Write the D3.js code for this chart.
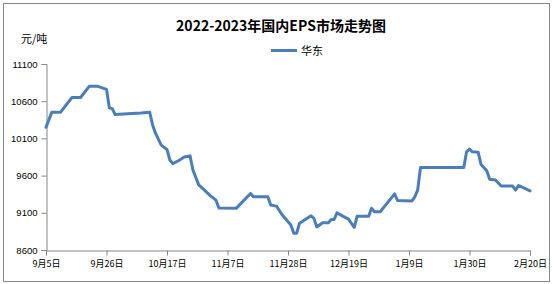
<!DOCTYPE html>
<html><head><meta charset="utf-8">
<script src="https://cdn.jsdelivr.net/npm/d3@7"></script>
<style>body{margin:0;background:#fff}svg{display:block}</style>
</head><body>
<svg id="c" width="555" height="284"></svg>
<script>
const titleText = "2022-2023年国内EPS市场走势图";
const unitText = "元/吨";
const seriesName = "华东";
const dates = ["2022-09-05","2022-09-07","2022-09-10","2022-09-14","2022-09-17","2022-09-20","2022-09-23","2022-09-26","2022-09-27","2022-09-28","2022-09-29","2022-10-08","2022-10-11","2022-10-12","2022-10-13","2022-10-15","2022-10-17","2022-10-18","2022-10-19","2022-10-21","2022-10-23","2022-10-25","2022-10-26","2022-10-28","2022-10-30","2022-11-01","2022-11-03","2022-11-04","2022-11-10","2022-11-15","2022-11-16","2022-11-21","2022-11-22","2022-11-24","2022-11-26","2022-11-29","2022-11-30","2022-12-01","2022-12-02","2022-12-06","2022-12-07","2022-12-08","2022-12-10","2022-12-12","2022-12-13","2022-12-14","2022-12-15","2022-12-17","2022-12-19","2022-12-21","2022-12-22","2022-12-26","2022-12-27","2022-12-28","2022-12-30","2023-01-04","2023-01-05","2023-01-10","2023-01-11","2023-01-12","2023-01-13","2023-01-28","2023-01-29","2023-01-30","2023-01-31","2023-02-02","2023-02-03","2023-02-05","2023-02-06","2023-02-08","2023-02-10","2023-02-14","2023-02-15","2023-02-16","2023-02-17","2023-02-20"];
const values = [10250,10450,10450,10650,10650,10800,10800,10760,10510,10500,10420,10440,10450,10280,10170,10010,9950,9810,9760,9800,9850,9865,9675,9475,9405,9330,9270,9165,9160,9360,9315,9315,9205,9190,9070,8935,8825,8825,8960,9060,9025,8910,8965,8965,9010,9010,9100,9055,9015,8905,9055,9055,9160,9115,9115,9355,9265,9260,9315,9405,9710,9710,9920,9955,9920,9915,9750,9665,9550,9540,9460,9460,9405,9465,9450,9395];
const xTickDates = ["2022-09-05","2022-09-26","2022-10-17","2022-11-07","2022-11-28","2022-12-19","2023-01-09","2023-01-30","2023-02-20"];
const yTicks = [8600,9100,9600,10100,10600,11100];

const parse = d3.timeParse("%Y-%m-%d");
const data = dates.map((d,i)=>({date:parse(d), value:values[i]}));
const svg = d3.select("#c");
const axisColor = "#868686";
const lineColor = "#4A7EBB";
const font = "'Noto Sans CJK SC', 'Noto Sans', sans-serif";

svg.append("rect").attr("x",3.5).attr("y",3.5).attr("width",546).attr("height",278)
  .attr("fill","#fff").attr("stroke","#888").attr("stroke-width",1);

const x = d3.scaleTime().domain([parse(xTickDates[0]), parse(xTickDates[xTickDates.length-1])]).range([46,530]);
const y = d3.scaleLinear().domain([8600,11100]).range([250,64]);

// y axis
const yAxis = d3.axisLeft(y).tickValues(yTicks).tickSize(5).tickPadding(4).tickFormat(d3.format("d"));
const gy = svg.append("g").attr("transform","translate(46.5,0)").call(yAxis);
gy.select(".domain").attr("stroke",axisColor);
gy.selectAll(".tick line").attr("stroke",axisColor);
gy.selectAll(".tick text").attr("fill","#000").style("font-family","Arial, 'Liberation Sans', sans-serif").style("font-size","9.5px");

// x axis
const fmt = d3.timeFormat("%-m月%-d日");
const xAxis = d3.axisBottom(x).tickValues(xTickDates.map(parse)).tickSize(5).tickPadding(5).tickFormat(fmt);
const gx = svg.append("g").attr("transform","translate(0,250.5)").call(xAxis);
gx.select(".domain").attr("stroke",axisColor);
gx.selectAll(".tick line").attr("stroke",axisColor);
gx.selectAll(".tick text").attr("fill","#000").style("font-family",font).style("font-size","9px");

// line
const line = d3.line().x(d=>x(d.date)).y(d=>y(d.value));
svg.append("path").datum(data).attr("d",line).attr("fill","none")
  .attr("stroke",lineColor).attr("stroke-width",3).attr("stroke-linejoin","round").attr("stroke-linecap","round");

// title
svg.append("text").attr("x",281).attr("y",31).attr("text-anchor","middle")
  .style("font-family",font).style("font-size","14px").style("font-weight","bold").text(titleText);
// unit
svg.append("text").attr("x",21).attr("y",42.5)
  .style("font-family",font).style("font-size","11px").text(unitText);
// legend
svg.append("line").attr("x1",271).attr("x2",297).attr("y1",50.5).attr("y2",50.5)
  .attr("stroke",lineColor).attr("stroke-width",3);
svg.append("text").attr("x",301).attr("y",54.5)
  .style("font-family",font).style("font-size","11px").text(seriesName);
</script>
</body></html>
